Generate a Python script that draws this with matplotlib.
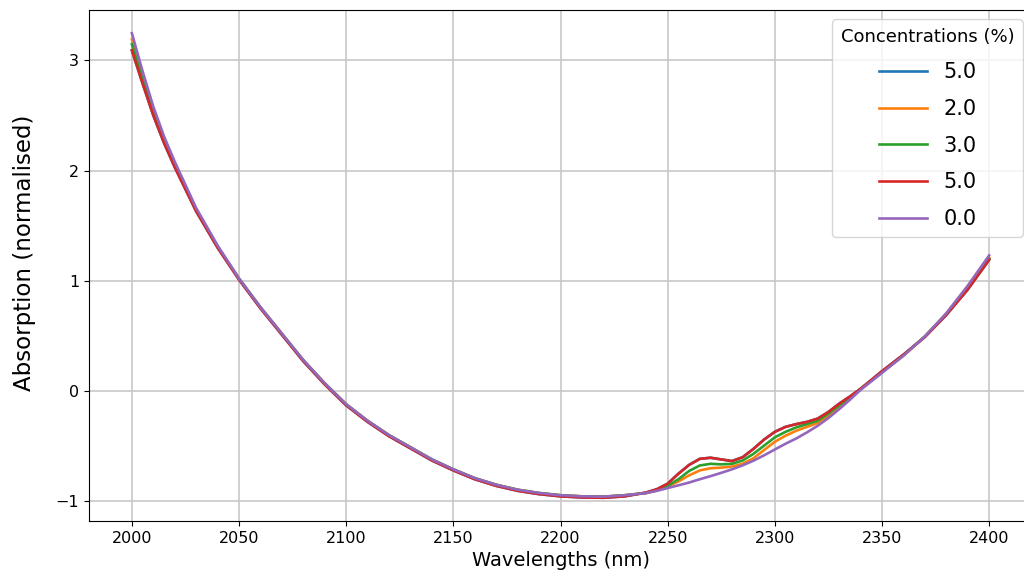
import matplotlib
matplotlib.use("Agg")
import matplotlib.pyplot as plt

# wavelength grid (nm): coarse on the smooth parts, finer around the bumps
wavelengths = [2000, 2005, 2010, 2015, 2020, 2030, 2040, 2050, 2060, 2070,
               2080, 2090, 2100, 2110, 2120, 2130, 2140, 2150, 2160, 2170,
               2180, 2190, 2200, 2210, 2220, 2230, 2240, 2245, 2250, 2255,
               2260, 2265, 2270, 2275, 2280, 2285, 2290, 2295, 2300, 2305,
               2310, 2315, 2320, 2325, 2330, 2335, 2340, 2350, 2360, 2370,
               2380, 2390, 2400]

labels = ["5.0", "2.0", "3.0", "5.0", "0.0"]

absorb_5a = [3.09, 2.79, 2.50, 2.25, 2.03, 1.63, 1.30, 1.01, 0.75, 0.51,
             0.27, 0.06, -0.13, -0.28, -0.41, -0.52, -0.63, -0.72, -0.80, -0.86,
             -0.905, -0.935, -0.955, -0.965, -0.968, -0.955, -0.92, -0.89, -0.84, -0.75,
             -0.67, -0.615, -0.605, -0.62, -0.635, -0.6, -0.525, -0.44, -0.37, -0.325,
             -0.30, -0.28, -0.25, -0.19, -0.115, -0.05, 0.02, 0.18, 0.33, 0.49,
             0.69, 0.92, 1.19]

absorb_2 = [3.19, 2.86, 2.55, 2.29, 2.06, 1.65, 1.31, 1.02, 0.76, 0.52,
            0.28, 0.07, -0.12, -0.27, -0.40, -0.51, -0.62, -0.71, -0.79, -0.85,
            -0.895, -0.925, -0.945, -0.955, -0.958, -0.945, -0.925, -0.90, -0.865, -0.82,
            -0.765, -0.72, -0.70, -0.695, -0.685, -0.66, -0.61, -0.535, -0.46, -0.405,
            -0.36, -0.325, -0.29, -0.225, -0.145, -0.065, 0.02, 0.17, 0.32, 0.495,
            0.70, 0.945, 1.21]

absorb_3 = [3.145, 2.83, 2.53, 2.27, 2.05, 1.64, 1.31, 1.02, 0.76, 0.52,
            0.28, 0.07, -0.12, -0.27, -0.40, -0.51, -0.62, -0.71, -0.79, -0.85,
            -0.895, -0.925, -0.945, -0.955, -0.958, -0.945, -0.925, -0.90, -0.86, -0.80,
            -0.725, -0.675, -0.66, -0.665, -0.66, -0.63, -0.57, -0.495, -0.42, -0.37,
            -0.33, -0.30, -0.27, -0.205, -0.13, -0.06, 0.02, 0.17, 0.325, 0.495,
            0.70, 0.94, 1.20]

absorb_5b = [3.09, 2.79, 2.50, 2.25, 2.03, 1.63, 1.30, 1.01, 0.75, 0.51,
             0.27, 0.06, -0.13, -0.28, -0.41, -0.52, -0.63, -0.72, -0.80, -0.86,
             -0.905, -0.935, -0.955, -0.965, -0.968, -0.955, -0.92, -0.89, -0.84, -0.75,
             -0.67, -0.615, -0.605, -0.62, -0.635, -0.6, -0.525, -0.44, -0.37, -0.325,
             -0.30, -0.28, -0.25, -0.19, -0.115, -0.05, 0.02, 0.18, 0.33, 0.49,
             0.69, 0.92, 1.19]

absorb_0 = [3.245, 2.90, 2.58, 2.31, 2.08, 1.66, 1.32, 1.02, 0.76, 0.52,
            0.28, 0.07, -0.12, -0.27, -0.40, -0.51, -0.62, -0.71, -0.79, -0.85,
            -0.895, -0.925, -0.945, -0.955, -0.958, -0.945, -0.925, -0.905, -0.88, -0.855,
            -0.83, -0.8, -0.772, -0.742, -0.71, -0.674, -0.632, -0.583, -0.53, -0.478,
            -0.43, -0.375, -0.315, -0.245, -0.165, -0.08, 0.01, 0.165, 0.32, 0.495,
            0.705, 0.955, 1.23]

series = [absorb_5a, absorb_2, absorb_3, absorb_5b, absorb_0]
colors = ["C0", "C1", "C2", "C3", "C4"]

fig = plt.figure(figsize=(10.24, 5.87), dpi=100)
# axes run past the right edge, as in the cropped reference
ax = fig.add_axes([89 / 1024, 66 / 587, 943 / 1024, 511 / 587])

for vals, lab, col in zip(series, labels, colors):
    ax.plot(wavelengths, vals, color=col, lw=1.9, label=lab)

ax.set_xticks(range(2000, 2401, 50))
ax.set_yticks([-1, 0, 1, 2, 3])
ax.tick_params(labelsize=11.5)
ax.set_xlabel("Wavelengths (nm)", fontsize=14)
ax.set_ylabel("Absorption (normalised)", fontsize=16.5)
ax.yaxis.set_label_coords(-0.056, 0.525)
ax.grid(True, color="#c8c8c8", lw=1.2)

leg = ax.legend(title="Concentrations (%)", fontsize=15, title_fontsize=13,
                loc="upper right", handlelength=2.3, labelspacing=0.8,
                borderaxespad=0.45)

fig.savefig("out.png", dpi=100)
